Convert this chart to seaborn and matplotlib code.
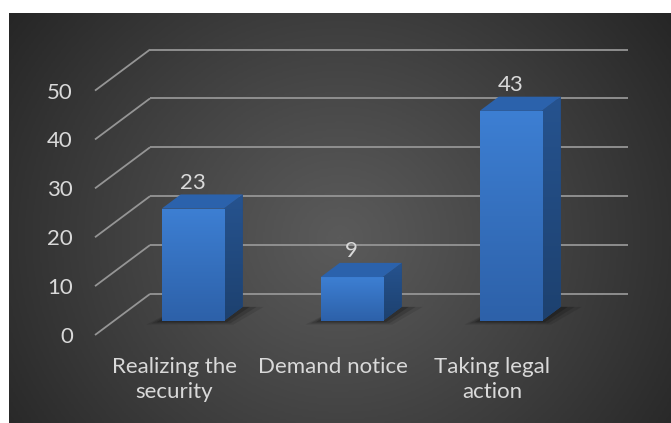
import numpy as np
import matplotlib
matplotlib.use("Agg")
import matplotlib.pyplot as plt
from matplotlib.patches import Polygon
from matplotlib.colors import LinearSegmentedColormap
from matplotlib.transforms import Affine2D
import pandas as pd
import seaborn as sns

# data
categories = ["Realizing the\nsecurity", "Demand notice", "Taking legal\naction"]
counts = [23, 9, 43]
yticks = [0, 10, 20, 30, 40, 50]

sns.set_theme(style="dark")
plt.rcParams['font.family'] = ['Lato', 'DejaVu Sans']

W, H = 671, 423
fig = plt.figure(figsize=(W / 100, H / 100), dpi=100)
fig.patch.set_facecolor("white")

# dark panel with a soft radial gradient
bg = fig.add_axes([9 / W, 0, (W - 9) / W, (H - 13) / H])
gx, gy = np.meshgrid(np.linspace(0, 1, 300), np.linspace(0, 1, 200))
r = np.sqrt(((gx - 0.5) * 1.5) ** 2 + (gy - 0.45) ** 2)
shade = 1 - np.clip(r / r.max(), 0, 1) ** 1.1
bg_cmap = LinearSegmentedColormap.from_list("bg", ["#262626", "#5a5a5a"])
bg.imshow(shade, cmap=bg_cmap, aspect="auto", extent=[0, 1, 0, 1], origin="lower")
bg.set_axis_off()

# main axes = front plane of the 3D box
ax = fig.add_axes([95 / W, (H - 335) / H, 533 / W, (335 - 90.6) / H])
ax.set_facecolor("none")

df = pd.DataFrame({"action": categories, "count": counts})
sns.barplot(data=df, x="action", y="count", ax=ax, width=0.39, color="#3572c6",
            saturation=1, errorbar=None, zorder=4)

xlim = (-0.497, 2.855)
Dx, Dy = 0.346, 8.40            # full depth of the floor, in data units
fx, fy = 0.34 * Dx, 0.34 * Dy   # front face of bars
bx, by = 0.345 * Dx, 0.345 * Dy # bar depth

grid_col = "#959595"
for v in yticks:
    ax.plot([xlim[0], xlim[0] + Dx], [v, v + Dy], color=grid_col, lw=1.3,
            clip_on=False, zorder=1, solid_capstyle="butt")
    ax.plot([xlim[0] + Dx, xlim[1]], [v + Dy, v + Dy], color=grid_col, lw=1.3,
            clip_on=False, zorder=1, solid_capstyle="butt")

front_cmap = LinearSegmentedColormap.from_list("front", ["#2d61a9", "#3d7fd3"])
side_cmap = LinearSegmentedColormap.from_list("side", ["#1d416f", "#26538f"])

for p, val in zip(ax.patches, counts):
    x0, w, h = p.get_x(), p.get_width(), p.get_height()
    p.set_transform(Affine2D().translate(fx, fy) + ax.transData)
    p.set_edgecolor("none")
    p.set_clip_on(False)
    L, R = x0 + fx, x0 + w + fx
    B, T = fy, h + fy

    # soft shadow on the floor
    for k, a in [(0.06, 0.10), (0.04, 0.15), (0.02, 0.2)]:
        shadow = Polygon([(L - k * 1.6, B - k * 12), (R + k, B - k * 12),
                          (R + bx + k * 2.2, B + by), (L + bx, B + by)],
                         closed=True, facecolor="black", alpha=a, lw=0,
                         zorder=2, clip_on=False)
        ax.add_patch(shadow)

    grad = np.linspace(0, 1, 100).reshape(-1, 1)
    im = ax.imshow(grad, cmap=front_cmap, aspect="auto", origin="lower",
                   extent=[L, R, B, T], zorder=4.5)
    im.set_clip_path(p)

    side = Polygon([(R, B), (R + bx, B + by), (R + bx, T + by), (R, T)],
                   closed=True, facecolor="#22497f", lw=0, zorder=4, clip_on=False)
    ax.add_patch(side)
    im2 = ax.imshow(grad, cmap=side_cmap, aspect="auto", origin="lower",
                    extent=[R, R + bx, B, T + by], zorder=4.2)
    im2.set_clip_path(side)

    top = Polygon([(L, T), (R, T), (R + bx, T + by), (L + bx, T + by)],
                  closed=True, facecolor="#2b62ac", lw=0, zorder=4.6, clip_on=False)
    ax.add_patch(top)

    ax.text((L + R) / 2, T + by + 0.3, f"{val}", ha="center", va="bottom",
            color="#d9d9d9", fontsize=16, clip_on=False)

ax.set_xlim(*xlim)
ax.set_ylim(0, 50)
ax.set_yticks(yticks)
ax.set_xlabel("")
ax.set_ylabel("")
ax.tick_params(axis="both", length=0, labelcolor="#d9d9d9", labelsize=16)
ax.tick_params(axis="y", pad=16)
ax.tick_params(axis="x", pad=16)
for lbl in ax.get_xticklabels():
    lbl.set_linespacing(1.3)
for s in ax.spines.values():
    s.set_visible(False)
ax.grid(False)

fig.savefig("out.png", dpi=100, facecolor=fig.get_facecolor())
